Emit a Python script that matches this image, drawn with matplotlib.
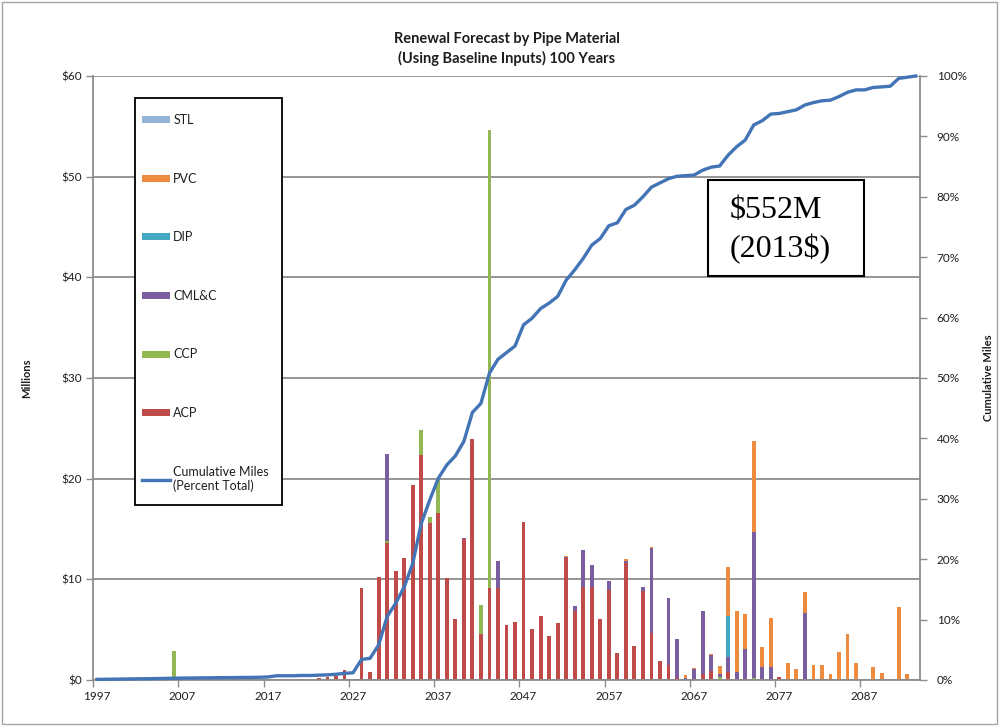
import numpy as np
import matplotlib
matplotlib.use('Agg')
from matplotlib import pyplot as plt
from matplotlib.patches import Patch, Rectangle
from matplotlib.lines import Line2D
from matplotlib.ticker import PercentFormatter, StrMethodFormatter

plt.rcParams['font.family'] = ['Lato', 'DejaVu Sans']

###### data ######

years = np.arange(1997, 2094)

# renewal cost, $ millions (years not listed are zero)
acp = {1997: 0.2, 2021: 0.1, 2023: 0.2, 2024: 0.3, 2025: 0.4, 2026: 1.0,
       2028: 9.1, 2029: 0.8, 2030: 10.2, 2031: 13.6, 2032: 10.8, 2033: 12.1,
       2034: 19.4, 2035: 22.4, 2036: 15.6, 2037: 16.6, 2038: 10.1, 2039: 6.1,
       2040: 14.0, 2041: 23.9, 2042: 4.6, 2043: 9.1, 2044: 9.1, 2045: 5.5,
       2046: 5.8, 2047: 15.7, 2048: 5.1, 2049: 6.4, 2050: 4.4, 2051: 5.7,
       2052: 12.1, 2053: 6.85, 2054: 9.2, 2055: 9.2, 2056: 6.1, 2057: 8.9,
       2058: 2.65, 2059: 11.65, 2060: 3.4, 2061: 8.85, 2062: 4.7, 2063: 1.9,
       2064: 1.5, 2065: 0.2, 2066: 0.1, 2068: 0.6, 2069: 0.9, 2071: 0.8,
       2077: 0.25}
ccp = {2006: 2.9, 2031: 0.2, 2035: 2.4, 2036: 0.6, 2037: 3.3, 2042: 2.9,
       2043: 45.5, 2070: 0.3, 2074: 0.2}
cmlc = {2031: 8.7, 2040: 0.1, 2044: 2.7, 2052: 0.1, 2053: 0.5, 2054: 3.7,
        2055: 2.2, 2057: 0.9, 2059: 0.15, 2061: 0.35, 2062: 8.4, 2064: 6.6,
        2065: 3.9, 2066: 0.1, 2067: 1.1, 2068: 6.25, 2069: 1.6, 2070: 0.3,
        2071: 1.45, 2072: 0.8, 2073: 3.05, 2074: 14.5, 2075: 1.25, 2076: 1.25,
        2077: 0.05, 2080: 6.7, 2082: 0.1}
dip = {2071: 4.1}
pvc = {2052: 0.1, 2059: 0.2, 2062: 0.1, 2066: 0.3, 2067: 0.1, 2068: 0.05,
       2069: 0.05, 2070: 0.8, 2071: 4.85, 2072: 6.1, 2073: 3.5, 2074: 9.0,
       2075: 2.0, 2076: 4.95, 2078: 1.65, 2079: 1.1, 2080: 2.0, 2081: 1.5,
       2082: 1.4, 2083: 0.6, 2084: 2.75, 2085: 4.6, 2086: 1.7, 2088: 1.25,
       2089: 0.7, 2090: 0.1, 2091: 7.3, 2092: 0.6}
stl = {}

# cumulative miles, percent of total (1997..2093)
cum_miles = [0.1, 0.12, 0.14, 0.16, 0.18, 0.2, 0.22, 0.24, 0.26, 0.3,
             0.32, 0.33, 0.35, 0.36, 0.38, 0.39, 0.4, 0.42, 0.43, 0.45,
             0.5, 0.7, 0.7, 0.7, 0.75, 0.75, 0.8, 0.85, 0.95, 1.1, 1.2,
             3.4, 3.6, 5.8, 10.5, 12.7, 15.4, 19.3, 25.9, 29.8, 33.4, 35.6,
             37.1, 39.5, 44.3, 45.8, 50.8,
             53.1, 54.2, 55.3, 58.8, 59.9, 61.5, 62.4, 63.5, 66.2, 67.9, 69.8,
             72.0, 73.1, 75.2, 75.7, 77.9, 78.6,
             80.0, 81.6, 82.3, 83.0, 83.4, 83.5, 83.6, 84.4, 84.9, 85.1, 86.9,
             88.3, 89.4, 91.9, 92.6, 93.7, 93.8, 94.1, 94.4, 95.2, 95.6, 95.9,
             96.0, 96.6, 97.3, 97.7, 97.7, 98.1, 98.2, 98.3, 99.6, 99.8, 100.0]

materials = ['ACP', 'CCP', 'CML&C', 'DIP', 'PVC', 'STL']
values = [acp, ccp, cmlc, dip, pvc, stl]
colors = ['#BE4B48', '#93B753', '#7A5EA0', '#43A8C2', '#EE8B3E', '#95B3D7']
line_color = '#4274B6'
grid_color = '#8C8C8C'
text_color = '#1E1E1E'

###### plot ######

W, H = 999, 726


def fx(px):
    return px / W


def fy(py):
    return 1 - py / H


fig = plt.figure(figsize=(W / 100, H / 100), dpi=100)
ax = fig.add_axes([fx(93), fy(680), (920 - 93) / W, (680 - 76) / H])

x = np.arange(len(years))
bottom = np.zeros(len(years))
for name, d, c in zip(materials, values, colors):
    v = np.array([d.get(y, 0.0) for y in years])
    ax.bar(x, v, width=0.45, bottom=bottom, color=c, zorder=2, label=name)
    bottom += v

ax.set_xlim(-0.5, len(years) - 0.5)
ax.set_ylim(0, 60)
ax.set_yticks(np.arange(0, 61, 10))
ax.yaxis.set_major_formatter(StrMethodFormatter('${x:.0f}'))
ax.yaxis.grid(True, color=grid_color, lw=1.3, zorder=0)
ax.set_axisbelow(True)

ax.set_xticks(np.arange(0, 91, 10))
ax.set_xticklabels([str(y) for y in years[::10][:10]])
ax.set_xticks(np.arange(0, 91, 10) - 0.5, minor=True)
ax.tick_params(axis='x', which='major', length=0, pad=8, labelsize=8.5, labelcolor=text_color)
ax.tick_params(axis='x', which='minor', length=5, color=grid_color, width=1)
ax.tick_params(axis='y', length=5, color=grid_color, width=1, pad=3,
               labelsize=8.5, labelcolor=text_color)

for s in ['left', 'right', 'bottom']:
    ax.spines[s].set_color(grid_color)
    ax.spines[s].set_linewidth(1.3)
ax.spines['top'].set_visible(False)

ax.set_ylabel('Millions', fontsize=8, fontweight='bold', color=text_color)
ax.yaxis.set_label_coords((32 - 93) / 827, 0.5)

ax.set_title('Renewal Forecast by Pipe Material\n(Using Baseline Inputs) 100 Years',
             fontsize=10.5, fontweight='bold', color=text_color, linespacing=1.45, pad=9)

# cumulative miles on the right axis
ax2 = ax.twinx()
ax2.plot(x, np.array(cum_miles) / 100, color=line_color, lw=2.4, clip_on=False,
         solid_joinstyle='round')
ax2.set_ylim(0, 1)
ax2.set_yticks(np.arange(0, 1.01, 0.1))
ax2.yaxis.set_major_formatter(PercentFormatter(1.0, decimals=0))
ax2.tick_params(axis='y', length=5, color=grid_color, width=1, pad=7,
                labelsize=8.5, labelcolor=text_color)
for s in ['left', 'right', 'bottom', 'top']:
    ax2.spines[s].set_visible(False)
ax2.set_ylabel('Cumulative Miles', fontsize=8, fontweight='bold', color=text_color)
ax2.yaxis.set_label_coords((983 - 93) / 827, 0.5)

# legend box
fig.patches.append(Rectangle((fx(135), fy(505)), (282 - 135) / W, (505 - 98) / H,
                             transform=fig.transFigure, facecolor='white',
                             edgecolor='black', lw=1.3, zorder=1))
handles = [Patch(facecolor=c) for c in colors[::-1]]
handles.append(Line2D([], [], color=line_color, lw=2.4))
labels = materials[::-1] + ['Cumulative Miles\n(Percent Total)']
fig.legend(handles, labels, loc='upper left', bbox_to_anchor=(fx(142), fy(114)),
           frameon=False, borderpad=0, borderaxespad=0, labelspacing=3.73,
           handlelength=2.2, handleheight=0.5, handletextpad=0.3,
           fontsize=9, labelcolor=text_color)

# total annotation
fig.patches.append(Rectangle((fx(708), fy(276)), (864 - 708) / W, (276 - 180) / H,
                             transform=fig.transFigure, facecolor='white',
                             edgecolor='black', lw=1.5, zorder=1))
fig.text(fx(730), fy(211), '$552M', fontsize=23, family='Liberation Serif',
         va='center', ha='left', color='black', zorder=2)
fig.text(fx(730), fy(249), '(2013$)', fontsize=23, family='Liberation Serif',
         va='center', ha='left', color='black', zorder=2)

# chart area border
fig.patches.append(Rectangle((fx(2), fy(724)), (997 - 2) / W, (724 - 2) / H,
                             transform=fig.transFigure, fill=False,
                             edgecolor='#A6A6A6', lw=1, zorder=0))

fig.savefig('out.png', dpi=100)
